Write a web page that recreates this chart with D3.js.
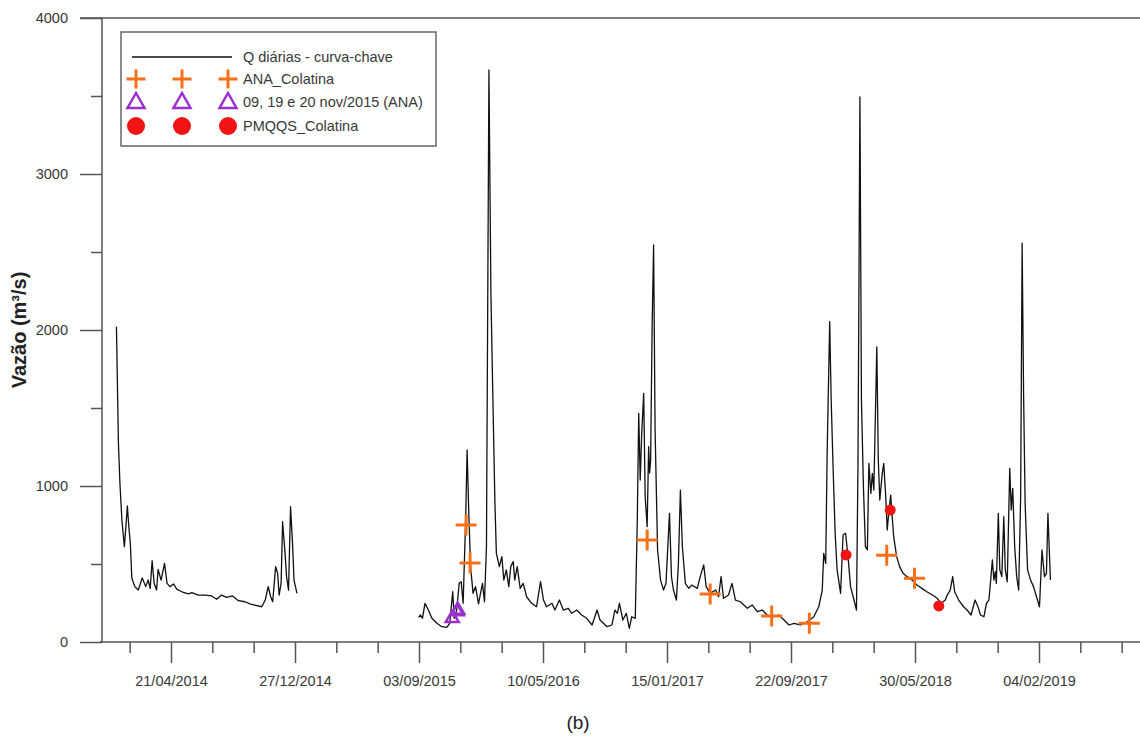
<!DOCTYPE html>
<html>
<head>
<meta charset="utf-8">
<script src="https://cdn.jsdelivr.net/npm/d3@7"></script>
<style>
  body { margin: 0; background: #fff; }
  text { font-family: "Liberation Sans", Arial, sans-serif; }
</style>
</head>
<body>
<svg id="chart" width="1140" height="738"></svg>
<script>
// Daily discharge (curva-chave), Colatina. Days are counted from the start of the record.
const recordStart = "2014-01-01";

// First stretch of the record: 2014
const daysA = [0, 4, 7, 11, 16, 19, 22, 25, 28, 31, 37, 44, 52, 59, 64, 68, 72, 76, 81, 84,
  90, 97, 102, 108, 115, 122, 132, 145, 152, 165, 179, 192, 202, 212, 222, 234, 246, 259, 269, 279,
  293, 300, 306, 311, 315, 321, 325, 328, 332, 335, 340, 343, 347, 351, 355, 358, 364];
const flowA = [2021, 1275, 1019, 782, 611, 739, 872, 739, 634, 410, 355, 333, 410, 355, 397, 344, 521, 376, 333, 466,
  397, 504, 376, 355, 372, 337, 322, 308, 316, 301, 301, 295, 274, 301, 286, 295, 265, 258, 244, 237,
  226, 269, 355, 290, 258, 483, 440, 301, 376, 771, 568, 419, 333, 867, 632, 397, 312];

// Second stretch of the record: Sep/2015 to Feb/2019
const daysB = [609, 613, 617, 622, 629, 636, 646, 656, 666, 672, 678, 681, 686, 691, 695, 699, 704, 707, 710, 714,
  719, 724, 730, 734, 738, 742, 746, 751, 755, 759, 763, 766, 772, 777, 781, 786, 791, 795, 800, 803,
  808, 814, 820, 827, 837, 847, 855, 861, 867, 878, 884, 893, 901, 911, 918, 928, 938, 948, 959, 969,
  975, 989, 999, 1005, 1010, 1014, 1021, 1028, 1034, 1039, 1046, 1050, 1053, 1056, 1059, 1063, 1066, 1070, 1073, 1075,
  1077, 1080, 1083, 1086, 1091, 1097, 1103, 1108, 1115, 1119, 1123, 1129, 1133, 1137, 1141, 1147, 1154, 1160, 1171, 1177,
  1184, 1189, 1197, 1208, 1214, 1219, 1224, 1234, 1241, 1248, 1258, 1272, 1282, 1292, 1302, 1312, 1325, 1335, 1346, 1356,
  1366, 1379, 1393, 1406, 1416, 1423, 1426, 1430, 1433, 1438, 1441, 1445, 1449, 1453, 1460, 1465, 1470, 1475, 1480, 1487,
  1492, 1495, 1499, 1502, 1506, 1510, 1514, 1517, 1521, 1524, 1527, 1533, 1536, 1539, 1544, 1547, 1551, 1554, 1557, 1561,
  1564, 1567, 1573, 1579, 1586, 1594, 1604, 1614, 1624, 1634, 1645, 1655, 1663, 1671, 1675, 1681, 1686, 1690, 1698, 1708,
  1715, 1723, 1731, 1737, 1742, 1749, 1754, 1759, 1762, 1766, 1769, 1772, 1774, 1778, 1781, 1785, 1789, 1792, 1796, 1801,
  1804, 1807, 1811, 1815, 1819, 1823, 1826, 1829, 1832, 1837, 1843, 1849, 1855, 1861, 1866, 1871, 1875, 1878, 1883];
const flowB = [158, 173, 152, 248, 205, 152, 120, 98, 94, 120, 322, 152, 205, 376, 387, 248, 782, 1231, 867, 483,
  312, 355, 244, 312, 376, 258, 611, 3667, 2235, 1550, 900, 568, 483, 547, 397, 462, 355, 483, 515, 397,
  483, 344, 376, 290, 248, 226, 387, 269, 226, 248, 205, 269, 205, 216, 184, 205, 173, 152, 109, 205,
  141, 98, 109, 205, 184, 248, 141, 184, 88, 162, 152, 760, 1466, 1038, 1338, 1594, 931, 739, 1252, 1083,
  1167, 2021, 2545, 1359, 590, 397, 333, 376, 825, 419, 333, 269, 504, 974, 611, 376, 344, 365, 344, 419,
  494, 355, 312, 333, 290, 419, 280, 301, 376, 269, 258, 216, 237, 194, 205, 173, 162, 173, 141, 109,
  120, 109, 130, 162, 226, 333, 568, 504, 1231, 2053, 1551, 1103, 697, 462, 312, 686, 697, 547, 355, 269,
  205, 1124, 3494, 1551, 995, 611, 590, 1145, 953, 1081, 974, 1891, 1167, 910, 1081, 1145, 931, 718, 825, 942,
  803, 675, 547, 483, 440, 419, 397, 365, 344, 322, 301, 280, 248, 269, 301, 333, 419, 322, 269, 226,
  205, 173, 269, 226, 173, 162, 248, 269, 376, 526, 397, 451, 376, 825, 462, 419, 803, 462, 387, 1113,
  846, 985, 611, 419, 333, 931, 2556, 1572, 889, 462, 397, 355, 290, 226, 590, 419, 440, 825, 397];

// Gaugings ANA_Colatina
const anaDates = ["2015-12-07", "2015-12-15", "2016-12-06", "2017-04-12", "2017-08-14", "2017-10-29", "2018-04-03", "2018-05-29"];
const anaFlow = [750, 506, 654, 308, 167, 120, 556, 408];

// ANA measurements of 09, 19 and 20 Nov/2015
const novDates = ["2015-11-09", "2015-11-19", "2015-11-20"];
const novFlow = [152, 195, 205];

// PMQQS_Colatina
const pmqqsDates = ["2018-01-11", "2018-04-10", "2018-07-17"];
const pmqqsFlow = [558, 846, 231];

const dateTickLabels = ["21/04/2014", "27/12/2014", "03/09/2015", "10/05/2016", "15/01/2017", "22/09/2017", "30/05/2018", "04/02/2019"];
const flowTicks = [0, 1000, 2000, 3000, 4000];
const flowMinorTicks = [500, 1500, 2500, 3500];
const legendLabels = ["Q diárias - curva-chave", "ANA_Colatina", "09, 19 e 20 nov/2015 (ANA)", "PMQQS_Colatina"];

const parseIso = d3.utcParse("%Y-%m-%d");
const parseLabel = d3.utcParse("%d/%m/%Y");
const start = parseIso(recordStart);

const svg = d3.select("#chart");
const axisColor = "#555";
const textColor = "#383838";
const orange = "#F5701A";
const purple = "#9B30D0";
const red = "#F01414";
const labelSize = 14.5;

const majorDates = dateTickLabels.map(parseLabel);
const x = d3.scaleUtc()
  .domain([majorDates[0], majorDates[majorDates.length - 1]])
  .range([171, 1039]);
const y = d3.scaleLinear().domain([0, 4000]).range([642, 18]);

const plotLeft = 102, plotRight = 1140, plotTop = 18, plotBottom = 642;

// minor date ticks: thirds of each labelled interval, across the whole axis
const stepMs = (majorDates[1] - majorDates[0]) / 3;
const minorDates = [];
for (let t = +majorDates[0] - stepMs; x(new Date(t)) < plotRight + 30; t += stepMs) {
  const d = new Date(t);
  if (!majorDates.some(m => Math.abs(m - d) < 1000)) minorDates.push(d);
}

// frame lines
svg.append("line").attr("x1", 80).attr("x2", plotRight).attr("y1", plotTop).attr("y2", plotTop)
  .attr("stroke", axisColor).attr("stroke-width", 1.5);
svg.append("line").attr("x1", plotLeft).attr("x2", plotLeft).attr("y1", plotTop).attr("y2", plotBottom + 1)
  .attr("stroke", axisColor).attr("stroke-width", 1.5);
svg.append("line").attr("x1", 100).attr("x2", plotRight).attr("y1", plotBottom).attr("y2", plotBottom)
  .attr("stroke", axisColor).attr("stroke-width", 1.5);

function styleAxis(g) {
  g.select(".domain").remove();
  g.selectAll(".tick line").attr("stroke", axisColor).attr("stroke-width", 1.5);
  g.selectAll(".tick text").attr("fill", textColor).attr("font-size", labelSize)
    .attr("font-family", "'Liberation Sans', Arial, sans-serif");
}

// x axis
svg.append("g").attr("transform", `translate(0,${plotBottom})`)
  .call(d3.axisBottom(x).tickValues(majorDates).tickSize(21).tickPadding(13)
    .tickFormat((d, i) => dateTickLabels[i]))
  .call(styleAxis);
svg.append("g").attr("transform", `translate(0,${plotBottom})`)
  .call(d3.axisBottom(x).tickValues(minorDates).tickSize(11).tickFormat(""))
  .call(styleAxis);

// y axis
svg.append("g").attr("transform", `translate(${plotLeft},0)`)
  .call(d3.axisLeft(y).tickValues(flowTicks).tickSize(22).tickPadding(12).tickFormat(d3.format("d")))
  .call(styleAxis);
svg.append("g").attr("transform", `translate(${plotLeft},0)`)
  .call(d3.axisLeft(y).tickValues(flowMinorTicks).tickSize(11).tickFormat(""))
  .call(styleAxis);

// axis titles
svg.append("text")
  .attr("transform", "translate(26,330) rotate(-90)")
  .attr("text-anchor", "middle")
  .attr("font-size", 20).attr("font-weight", "bold").attr("fill", "#222")
  .text("Vazão (m³/s)");
svg.append("text")
  .attr("x", 578).attr("y", 729).attr("text-anchor", "middle")
  .attr("font-size", 19).attr("fill", "#222")
  .text("(b)");

// daily discharge line
const toSeries = (days, flows) => days.map((d, i) => ({ date: d3.utcDay.offset(start, d), q: flows[i] }));
const line = d3.line().x(d => x(d.date)).y(d => y(d.q));
[toSeries(daysA, flowA), toSeries(daysB, flowB)].forEach(seg => {
  svg.append("path").datum(seg)
    .attr("d", line)
    .attr("fill", "none").attr("stroke", "#111").attr("stroke-width", 1.3)
    .attr("stroke-linejoin", "round");
});

// marker shapes
const plusPath = s => `M${-s},0H${s}M0,${-s}V${s}`;
const triPath = (w, h) => `M0,${-h * 2 / 3}L${w / 2},${h / 3}L${-w / 2},${h / 3}Z`;

svg.append("g").selectAll("path")
  .data(novDates.map((d, i) => ({ date: parseIso(d), q: novFlow[i] })))
  .join("path")
  .attr("transform", d => `translate(${x(d.date)},${y(d.q)})`)
  .attr("d", triPath(13, 11))
  .attr("fill", "none").attr("stroke", purple).attr("stroke-width", 2.5);

svg.append("g").selectAll("path")
  .data(anaDates.map((d, i) => ({ date: parseIso(d), q: anaFlow[i] })))
  .join("path")
  .attr("transform", d => `translate(${x(d.date)},${y(d.q)})`)
  .attr("d", plusPath(10.5))
  .attr("fill", "none").attr("stroke", orange).attr("stroke-width", 3);

svg.append("g").selectAll("circle")
  .data(pmqqsDates.map((d, i) => ({ date: parseIso(d), q: pmqqsFlow[i] })))
  .join("circle")
  .attr("cx", d => x(d.date)).attr("cy", d => y(d.q)).attr("r", 5.5)
  .attr("fill", red);

// legend
const lg = svg.append("g");
lg.append("rect").attr("x", 121).attr("y", 32).attr("width", 315).attr("height", 114)
  .attr("fill", "#fff").attr("stroke", "#666").attr("stroke-width", 1.5);
const rowY = [57, 79, 102, 126];
const symX = [136, 182, 228];
lg.append("line").attr("x1", 132).attr("x2", 232).attr("y1", rowY[0]).attr("y2", rowY[0])
  .attr("stroke", "#111").attr("stroke-width", 1.5);
symX.forEach(sx => {
  lg.append("path").attr("transform", `translate(${sx},${rowY[1]})`).attr("d", plusPath(9.5))
    .attr("stroke", orange).attr("stroke-width", 3).attr("fill", "none");
  lg.append("path").attr("transform", `translate(${sx},${rowY[2] + 1})`).attr("d", triPath(17, 15))
    .attr("stroke", purple).attr("stroke-width", 2.5).attr("fill", "none");
  lg.append("circle").attr("cx", sx).attr("cy", rowY[3]).attr("r", 9).attr("fill", red);
});
legendLabels.forEach((t, i) => {
  lg.append("text").attr("x", 243).attr("y", rowY[i]).attr("dy", "0.36em")
    .attr("font-size", labelSize).attr("fill", textColor).text(t);
});
</script>
</body>
</html>
